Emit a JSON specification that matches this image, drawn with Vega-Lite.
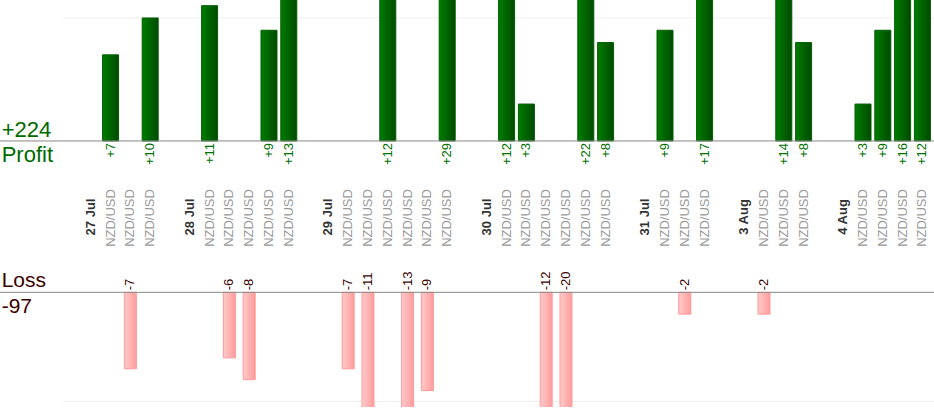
{
  "$schema": "https://vega.github.io/schema/vega-lite/v6.json",
  "width": 934,
  "height": 407,
  "padding": 0,
  "autosize": {"type": "none"},
  "background": "#ffffff",
  "config": {
    "view": {"stroke": null},
    "font": "Liberation Sans",
    "text": {"font": "Liberation Sans"},
    "locale": {"number": {"decimal": ".", "thousands": ",", "grouping": [3], "currency": ["$", ""], "minus": "-"}}
  },
  "datasets": {
    "trades": [
      {"id": "t01", "date": "27 Jul", "pair": "NZD/USD", "pl": 7},
      {"id": "t02", "date": "27 Jul", "pair": "NZD/USD", "pl": -7},
      {"id": "t03", "date": "27 Jul", "pair": "NZD/USD", "pl": 10},
      {"id": "t04", "date": "28 Jul", "pair": "NZD/USD", "pl": 11},
      {"id": "t05", "date": "28 Jul", "pair": "NZD/USD", "pl": -6},
      {"id": "t06", "date": "28 Jul", "pair": "NZD/USD", "pl": -8},
      {"id": "t07", "date": "28 Jul", "pair": "NZD/USD", "pl": 9},
      {"id": "t08", "date": "28 Jul", "pair": "NZD/USD", "pl": 13},
      {"id": "t09", "date": "29 Jul", "pair": "NZD/USD", "pl": -7},
      {"id": "t10", "date": "29 Jul", "pair": "NZD/USD", "pl": -11},
      {"id": "t11", "date": "29 Jul", "pair": "NZD/USD", "pl": 12},
      {"id": "t12", "date": "29 Jul", "pair": "NZD/USD", "pl": -13},
      {"id": "t13", "date": "29 Jul", "pair": "NZD/USD", "pl": -9},
      {"id": "t14", "date": "29 Jul", "pair": "NZD/USD", "pl": 29},
      {"id": "t15", "date": "30 Jul", "pair": "NZD/USD", "pl": 12},
      {"id": "t16", "date": "30 Jul", "pair": "NZD/USD", "pl": 3},
      {"id": "t17", "date": "30 Jul", "pair": "NZD/USD", "pl": -12},
      {"id": "t18", "date": "30 Jul", "pair": "NZD/USD", "pl": -20},
      {"id": "t19", "date": "30 Jul", "pair": "NZD/USD", "pl": 22},
      {"id": "t20", "date": "30 Jul", "pair": "NZD/USD", "pl": 8},
      {"id": "t21", "date": "31 Jul", "pair": "NZD/USD", "pl": 9},
      {"id": "t22", "date": "31 Jul", "pair": "NZD/USD", "pl": -2},
      {"id": "t23", "date": "31 Jul", "pair": "NZD/USD", "pl": 17},
      {"id": "t24", "date": "3 Aug", "pair": "NZD/USD", "pl": -2},
      {"id": "t25", "date": "3 Aug", "pair": "NZD/USD", "pl": 14},
      {"id": "t26", "date": "3 Aug", "pair": "NZD/USD", "pl": 8},
      {"id": "t27", "date": "4 Aug", "pair": "NZD/USD", "pl": 3},
      {"id": "t28", "date": "4 Aug", "pair": "NZD/USD", "pl": 9},
      {"id": "t29", "date": "4 Aug", "pair": "NZD/USD", "pl": 16},
      {"id": "t30", "date": "4 Aug", "pair": "NZD/USD", "pl": 12}
    ],
    "days": [
      {"id": "27 Jul"}, {"id": "28 Jul"}, {"id": "29 Jul"}, {"id": "30 Jul"},
      {"id": "31 Jul"}, {"id": "3 Aug"}, {"id": "4 Aug"}
    ]
  },
  "data": {"name": "trades"},
  "resolve": {"scale": {"y": "independent"}, "axis": {"y": "independent"}},
  "layer": [
    {
      "layer": [
        {
          "transform": [{"filter": "datum.pl > 0"}, {"aggregate": [{"op": "sum", "field": "pl", "as": "total"}]}],
          "mark": {"type": "rule", "color": "#eeeeee", "strokeWidth": 1},
          "encoding": {
            "x": {"datum": "p4", "type": "nominal", "bandPosition": 0.1, "axis": null,
              "scale": {"domain": ["p1","p2","p3","p4","27 Jul","t01","t02","t03","g1","28 Jul","t04","t05","t06","t07","t08","g2","29 Jul","t09","t10","t11","t12","t13","t14","g3","30 Jul","t15","t16","t17","t18","t19","t20","g4","31 Jul","t21","t22","t23","g5","3 Aug","t24","t25","t26","g6","4 Aug","t27","t28","t29","t30"], "paddingInner": 0, "paddingOuter": 0.085}},
            "x2": {"value": "width"},
            "y": {"datum": 10, "type": "quantitative", "axis": null, "scale": {"domain": [-21.63, 11.46], "nice": false, "zero": false}}
          }
        },
        {
          "transform": [{"filter": "datum.pl > 0"}],
          "mark": {"type": "bar", "width": 16, "clip": true, "stroke": "#005f00", "strokeWidth": 1,
            "color": {"gradient": "linear", "x1": 0, "x2": 1, "y1": 0, "y2": 0, "stops": [{"offset": 0, "color": "#007c00"}, {"offset": 1, "color": "#004a00"}]}},
          "encoding": {
            "x": {"field": "id", "type": "nominal", "axis": null,
              "scale": {"domain": ["p1","p2","p3","p4","27 Jul","t01","t02","t03","g1","28 Jul","t04","t05","t06","t07","t08","g2","29 Jul","t09","t10","t11","t12","t13","t14","g3","30 Jul","t15","t16","t17","t18","t19","t20","g4","31 Jul","t21","t22","t23","g5","3 Aug","t24","t25","t26","g6","4 Aug","t27","t28","t29","t30"], "paddingInner": 0, "paddingOuter": 0.085}},
            "y": {"field": "pl", "type": "quantitative", "axis": null, "scale": {"domain": [-21.63, 11.46], "nice": false, "zero": false}},
            "y2": {"datum": 0}
          }
        },
        {
          "transform": [{"filter": "datum.pl > 0"}, {"aggregate": [{"op": "sum", "field": "pl", "as": "total"}]}],
          "mark": {"type": "rule", "color": "#888888", "strokeWidth": 1},
          "encoding": {
            "y": {"datum": 0, "type": "quantitative", "axis": null, "scale": {"domain": [-21.63, 11.46], "nice": false, "zero": false}}
          }
        },
        {
          "transform": [{"filter": "datum.pl > 0"}],
          "mark": {"type": "text", "angle": 270, "align": "right", "baseline": "middle", "dx": -2, "fontSize": 13, "color": "#007000"},
          "encoding": {
            "x": {"field": "id", "type": "nominal", "axis": null,
              "scale": {"domain": ["p1","p2","p3","p4","27 Jul","t01","t02","t03","g1","28 Jul","t04","t05","t06","t07","t08","g2","29 Jul","t09","t10","t11","t12","t13","t14","g3","30 Jul","t15","t16","t17","t18","t19","t20","g4","31 Jul","t21","t22","t23","g5","3 Aug","t24","t25","t26","g6","4 Aug","t27","t28","t29","t30"], "paddingInner": 0, "paddingOuter": 0.085}},
            "y": {"datum": 0, "type": "quantitative", "axis": null, "scale": {"domain": [-21.63, 11.46], "nice": false, "zero": false}},
            "text": {"field": "pl", "type": "quantitative", "format": "+d"}
          }
        },
        {
          "mark": {"type": "text", "angle": 270, "align": "center", "baseline": "middle", "dx": -77, "fontSize": 13, "color": "#9a9a9a"},
          "encoding": {
            "x": {"field": "id", "type": "nominal", "axis": null,
              "scale": {"domain": ["p1","p2","p3","p4","27 Jul","t01","t02","t03","g1","28 Jul","t04","t05","t06","t07","t08","g2","29 Jul","t09","t10","t11","t12","t13","t14","g3","30 Jul","t15","t16","t17","t18","t19","t20","g4","31 Jul","t21","t22","t23","g5","3 Aug","t24","t25","t26","g6","4 Aug","t27","t28","t29","t30"], "paddingInner": 0, "paddingOuter": 0.085}},
            "y": {"datum": 0, "type": "quantitative", "axis": null, "scale": {"domain": [-21.63, 11.46], "nice": false, "zero": false}},
            "text": {"field": "pair", "type": "nominal"}
          }
        },
        {
          "data": {"name": "days"},
          "mark": {"type": "text", "angle": 270, "align": "center", "baseline": "middle", "dx": -76, "fontSize": 13, "fontWeight": "bold", "color": "#333333"},
          "encoding": {
            "x": {"field": "id", "type": "nominal", "axis": null,
              "scale": {"domain": ["p1","p2","p3","p4","27 Jul","t01","t02","t03","g1","28 Jul","t04","t05","t06","t07","t08","g2","29 Jul","t09","t10","t11","t12","t13","t14","g3","30 Jul","t15","t16","t17","t18","t19","t20","g4","31 Jul","t21","t22","t23","g5","3 Aug","t24","t25","t26","g6","4 Aug","t27","t28","t29","t30"], "paddingInner": 0, "paddingOuter": 0.085}},
            "y": {"datum": 0, "type": "quantitative", "axis": null, "scale": {"domain": [-21.63, 11.46], "nice": false, "zero": false}},
            "text": {"field": "id", "type": "nominal"}
          }
        },
        {
          "transform": [{"filter": "datum.pl > 0"}, {"aggregate": [{"op": "sum", "field": "pl", "as": "total"}]}],
          "mark": {"type": "text", "align": "left", "baseline": "alphabetic", "dy": -4, "fontSize": 22, "color": "#006a00"},
          "encoding": {
            "x": {"datum": "p1", "type": "nominal", "bandPosition": 0, "axis": null,
              "scale": {"domain": ["p1","p2","p3","p4","27 Jul","t01","t02","t03","g1","28 Jul","t04","t05","t06","t07","t08","g2","29 Jul","t09","t10","t11","t12","t13","t14","g3","30 Jul","t15","t16","t17","t18","t19","t20","g4","31 Jul","t21","t22","t23","g5","3 Aug","t24","t25","t26","g6","4 Aug","t27","t28","t29","t30"], "paddingInner": 0, "paddingOuter": 0.085}},
            "y": {"datum": 0, "type": "quantitative", "axis": null, "scale": {"domain": [-21.63, 11.46], "nice": false, "zero": false}},
            "text": {"field": "total", "type": "quantitative", "format": "+d"}
          }
        },
        {
          "transform": [{"filter": "datum.pl > 0"}, {"aggregate": [{"op": "sum", "field": "pl", "as": "total"}]}],
          "mark": {"type": "text", "align": "left", "baseline": "alphabetic", "dy": 21, "fontSize": 22, "color": "#006a00", "text": "Profit"},
          "encoding": {
            "x": {"datum": "p1", "type": "nominal", "bandPosition": 0, "axis": null,
              "scale": {"domain": ["p1","p2","p3","p4","27 Jul","t01","t02","t03","g1","28 Jul","t04","t05","t06","t07","t08","g2","29 Jul","t09","t10","t11","t12","t13","t14","g3","30 Jul","t15","t16","t17","t18","t19","t20","g4","31 Jul","t21","t22","t23","g5","3 Aug","t24","t25","t26","g6","4 Aug","t27","t28","t29","t30"], "paddingInner": 0, "paddingOuter": 0.085}},
            "y": {"datum": 0, "type": "quantitative", "axis": null, "scale": {"domain": [-21.63, 11.46], "nice": false, "zero": false}}
          }
        }
      ]
    },
    {
      "layer": [
        {
          "transform": [{"filter": "datum.pl < 0"}, {"aggregate": [{"op": "sum", "field": "pl", "as": "total"}]}],
          "mark": {"type": "rule", "color": "#eeeeee", "strokeWidth": 1},
          "encoding": {
            "x": {"datum": "p4", "type": "nominal", "bandPosition": 0.1, "axis": null,
              "scale": {"domain": ["p1","p2","p3","p4","27 Jul","t01","t02","t03","g1","28 Jul","t04","t05","t06","t07","t08","g2","29 Jul","t09","t10","t11","t12","t13","t14","g3","30 Jul","t15","t16","t17","t18","t19","t20","g4","31 Jul","t21","t22","t23","g5","3 Aug","t24","t25","t26","g6","4 Aug","t27","t28","t29","t30"], "paddingInner": 0, "paddingOuter": 0.085}},
            "x2": {"value": "width"},
            "y": {"datum": -10, "type": "quantitative", "axis": null, "scale": {"domain": [-10.5, 26.77], "nice": false, "zero": false}}
          }
        },
        {
          "transform": [{"filter": "datum.pl < 0"}],
          "mark": {"type": "bar", "width": 12, "clip": true, "stroke": "#ff9a9a", "strokeWidth": 1,
            "color": {"gradient": "linear", "x1": 0, "x2": 1, "y1": 0, "y2": 0, "stops": [{"offset": 0, "color": "#ffcaca"}, {"offset": 1, "color": "#ff9c9c"}]}},
          "encoding": {
            "x": {"field": "id", "type": "nominal", "axis": null,
              "scale": {"domain": ["p1","p2","p3","p4","27 Jul","t01","t02","t03","g1","28 Jul","t04","t05","t06","t07","t08","g2","29 Jul","t09","t10","t11","t12","t13","t14","g3","30 Jul","t15","t16","t17","t18","t19","t20","g4","31 Jul","t21","t22","t23","g5","3 Aug","t24","t25","t26","g6","4 Aug","t27","t28","t29","t30"], "paddingInner": 0, "paddingOuter": 0.085}},
            "y": {"field": "pl", "type": "quantitative", "axis": null, "scale": {"domain": [-10.5, 26.77], "nice": false, "zero": false}},
            "y2": {"datum": 0}
          }
        },
        {
          "transform": [{"filter": "datum.pl < 0"}, {"aggregate": [{"op": "sum", "field": "pl", "as": "total"}]}],
          "mark": {"type": "rule", "color": "#888888", "strokeWidth": 1},
          "encoding": {
            "y": {"datum": 0, "type": "quantitative", "axis": null, "scale": {"domain": [-10.5, 26.77], "nice": false, "zero": false}}
          }
        },
        {
          "transform": [{"filter": "datum.pl < 0"}],
          "mark": {"type": "text", "angle": 270, "align": "left", "baseline": "middle", "dx": 2, "fontSize": 13, "color": "#3a0000"},
          "encoding": {
            "x": {"field": "id", "type": "nominal", "axis": null,
              "scale": {"domain": ["p1","p2","p3","p4","27 Jul","t01","t02","t03","g1","28 Jul","t04","t05","t06","t07","t08","g2","29 Jul","t09","t10","t11","t12","t13","t14","g3","30 Jul","t15","t16","t17","t18","t19","t20","g4","31 Jul","t21","t22","t23","g5","3 Aug","t24","t25","t26","g6","4 Aug","t27","t28","t29","t30"], "paddingInner": 0, "paddingOuter": 0.085}},
            "y": {"datum": 0, "type": "quantitative", "axis": null, "scale": {"domain": [-10.5, 26.77], "nice": false, "zero": false}},
            "text": {"field": "pl", "type": "quantitative", "format": "d"}
          }
        },
        {
          "transform": [{"filter": "datum.pl < 0"}, {"aggregate": [{"op": "sum", "field": "pl", "as": "total"}]}],
          "mark": {"type": "text", "align": "left", "baseline": "alphabetic", "dy": -5, "fontSize": 21, "color": "#3a0000", "text": "Loss"},
          "encoding": {
            "x": {"datum": "p1", "type": "nominal", "bandPosition": 0, "axis": null,
              "scale": {"domain": ["p1","p2","p3","p4","27 Jul","t01","t02","t03","g1","28 Jul","t04","t05","t06","t07","t08","g2","29 Jul","t09","t10","t11","t12","t13","t14","g3","30 Jul","t15","t16","t17","t18","t19","t20","g4","31 Jul","t21","t22","t23","g5","3 Aug","t24","t25","t26","g6","4 Aug","t27","t28","t29","t30"], "paddingInner": 0, "paddingOuter": 0.085}},
            "y": {"datum": 0, "type": "quantitative", "axis": null, "scale": {"domain": [-10.5, 26.77], "nice": false, "zero": false}}
          }
        },
        {
          "transform": [{"filter": "datum.pl < 0"}, {"aggregate": [{"op": "sum", "field": "pl", "as": "total"}]}],
          "mark": {"type": "text", "align": "left", "baseline": "alphabetic", "dy": 21, "fontSize": 21, "color": "#3a0000"},
          "encoding": {
            "x": {"datum": "p1", "type": "nominal", "bandPosition": 0, "axis": null,
              "scale": {"domain": ["p1","p2","p3","p4","27 Jul","t01","t02","t03","g1","28 Jul","t04","t05","t06","t07","t08","g2","29 Jul","t09","t10","t11","t12","t13","t14","g3","30 Jul","t15","t16","t17","t18","t19","t20","g4","31 Jul","t21","t22","t23","g5","3 Aug","t24","t25","t26","g6","4 Aug","t27","t28","t29","t30"], "paddingInner": 0, "paddingOuter": 0.085}},
            "y": {"datum": 0, "type": "quantitative", "axis": null, "scale": {"domain": [-10.5, 26.77], "nice": false, "zero": false}},
            "text": {"field": "total", "type": "quantitative", "format": "d"}
          }
        }
      ]
    }
  ]
}
